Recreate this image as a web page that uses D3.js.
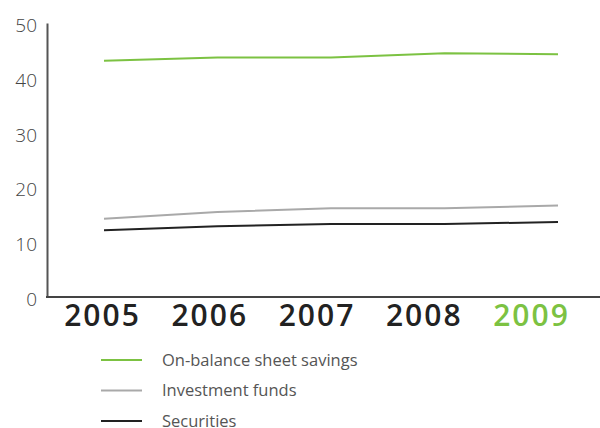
<!DOCTYPE html>
<html>
<head>
<meta charset="utf-8">
<script src="https://cdn.jsdelivr.net/npm/d3@7"></script>
<style>
  html, body { margin: 0; padding: 0; background: #fff; }
  svg { display: block; }
</style>
</head>
<body>
<svg id="chart" width="600" height="428"></svg>
<script>
// Savings composition by year (share, %)
const years = ["2005", "2006", "2007", "2008", "2009"];
const onBalance = [43.1, 43.7, 43.7, 44.5, 44.3];
const investmentFunds = [14.3, 15.5, 16.2, 16.2, 16.7];
const securities = [12.2, 12.9, 13.3, 13.3, 13.7];
const seriesNames = ["On-balance sheet savings", "Investment funds", "Securities"];
const seriesColors = ["#7cc242", "#a9a9a9", "#222222"];
const yTicks = [0, 10, 20, 30, 40, 50];

const svg = d3.select("#chart");

const y = d3.scaleLinear().domain([0, 50]).range([297, 23]);
const xPts = d3.scalePoint().domain(years).range([104, 558]);
const xLabels = d3.scalePoint().domain(years).range([102, 531]);

// y axis line + labels
const yAxis = d3.axisLeft(y).tickValues(yTicks).tickSize(0).tickPadding(10);
const gy = svg.append("g").attr("transform", "translate(47,0)").call(yAxis);
gy.select(".domain").attr("stroke", "#555").attr("stroke-width", 2);
gy.selectAll("text")
  .attr("font-family", "'Open Sans', sans-serif")
  .attr("font-weight", 300)
  .attr("font-size", 19)
  .attr("fill", "#444")
  .attr("dy", "0.45em");

// x baseline
svg.append("line")
  .attr("x1", 46).attr("x2", 600)
  .attr("y1", y(0)).attr("y2", y(0))
  .attr("stroke", "#444").attr("stroke-width", 2);

// year labels
const xAxis = d3.axisBottom(xLabels).tickSize(0).tickPadding(0);
const gx = svg.append("g").attr("transform", `translate(0,${y(0)})`).call(xAxis);
gx.select(".domain").remove();
gx.selectAll("text")
  .attr("font-family", "'Open Sans', sans-serif")
  .attr("font-weight", 600)
  .attr("font-size", 30)
  .attr("letter-spacing", 2)
  .attr("y", 29)
  .attr("dy", 0)
  .attr("fill", d => d === "2009" ? "#7cc242" : "#222");

// series lines
const allSeries = [onBalance, investmentFunds, securities];
const line = d3.line().x((d, i) => xPts(years[i])).y(d => y(d));
svg.append("g").selectAll("path")
  .data(allSeries)
  .join("path")
  .attr("d", line)
  .attr("fill", "none")
  .attr("stroke", (d, i) => seriesColors[i])
  .attr("stroke-width", 2);

// legend
const legend = svg.append("g").selectAll("g")
  .data(seriesNames)
  .join("g")
  .attr("transform", (d, i) => `translate(101,${360 + i * 30.5})`);
legend.append("line")
  .attr("x1", 0).attr("x2", 41)
  .attr("stroke", (d, i) => seriesColors[i])
  .attr("stroke-width", 2);
legend.append("text")
  .attr("x", 61)
  .attr("dy", "0.35em")
  .attr("font-family", "'Open Sans', sans-serif")
  .attr("font-weight", 400)
  .attr("font-size", 16.5)
  .attr("fill", "#555")
  .text(d => d);
</script>
</body>
</html>
